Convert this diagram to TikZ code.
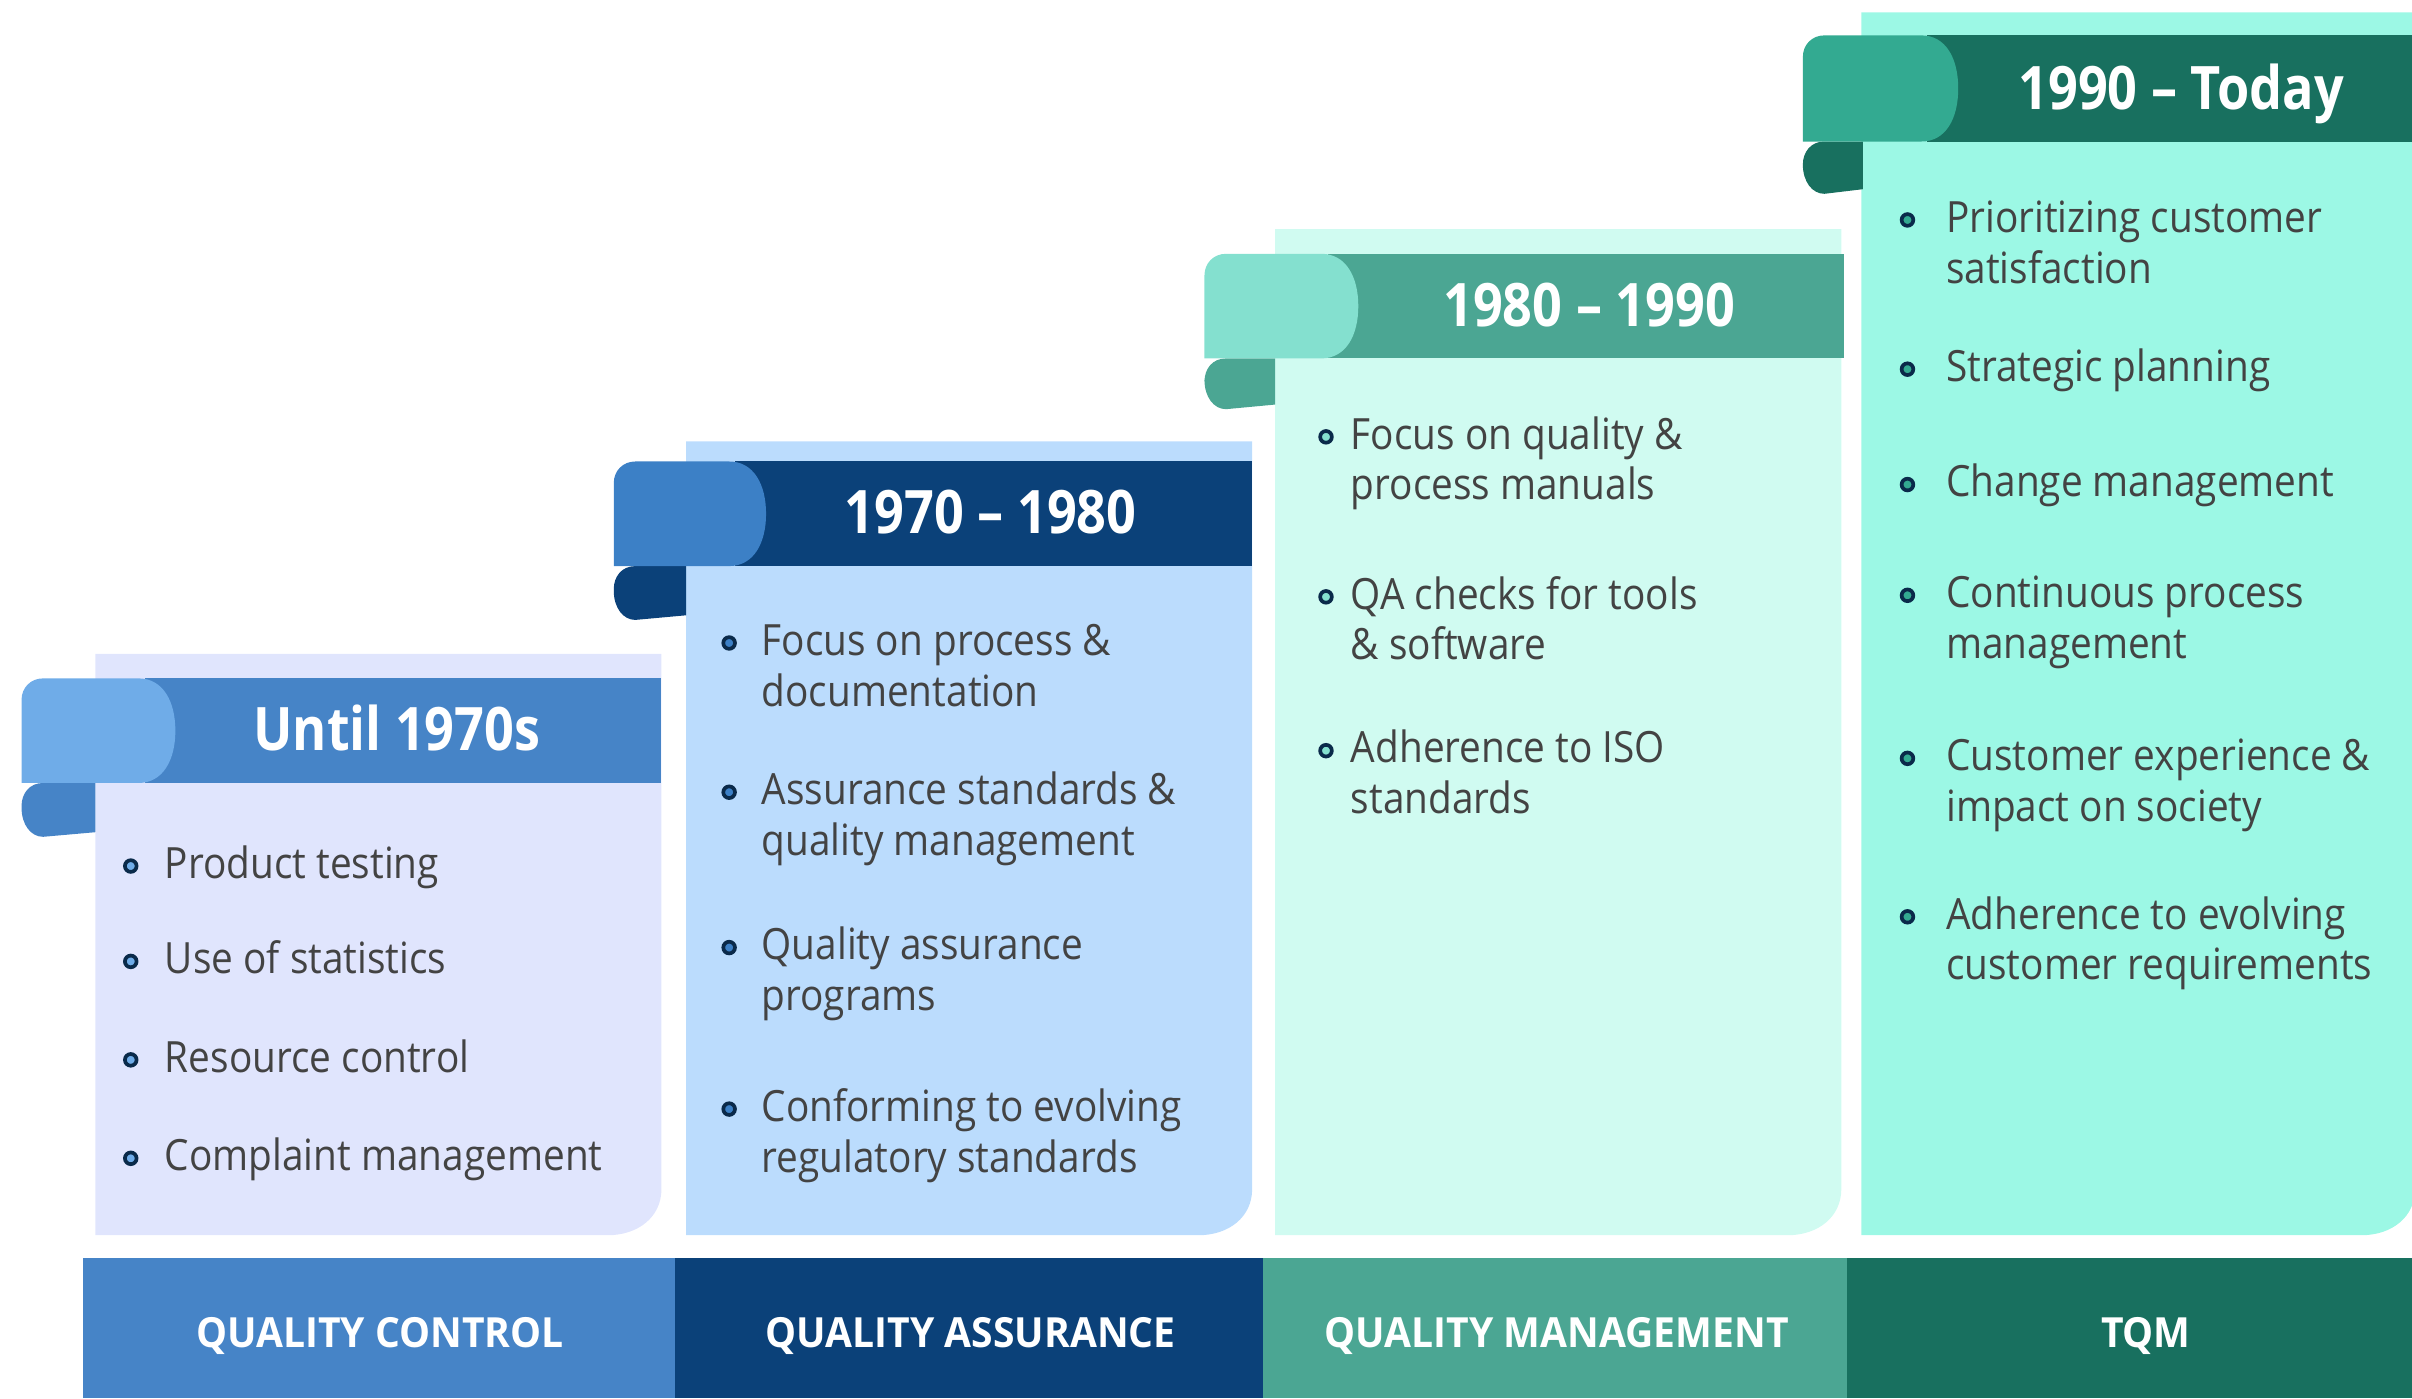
\documentclass[tikz,border=0pt]{standalone}
\usepackage{fontspec}
\setmainfont{Open Sans}[FakeStretch=0.9]
\newfontfamily\erafont{Open Sans}[FakeStretch=0.87]
\newfontfamily\barfont{Open Sans}[FakeStretch=0.94]

\definecolor{qcdark}{HTML}{4684C7}
\definecolor{qclight}{HTML}{6FACE8}
\definecolor{qcpanel}{HTML}{E0E5FD}
\definecolor{qadark}{HTML}{0B4179}
\definecolor{qalight}{HTML}{3C80C6}
\definecolor{qapanel}{HTML}{BBDCFD}
\definecolor{qmdark}{HTML}{4BA693}
\definecolor{qmlight}{HTML}{84E0CF}
\definecolor{qmpanel}{HTML}{D0FBF1}
\definecolor{tqmdark}{HTML}{18705F}
\definecolor{tqmlight}{HTML}{33AA91}
\definecolor{tqmpanel}{HTML}{9CF8E5}
\definecolor{navy}{HTML}{0A2A4A}
\definecolor{txt}{HTML}{434343}

\newcommand{\itemlines}[1]{\begin{tabular}[t]{@{}l@{}}#1\end{tabular}}

\tikzset{
 item/.style={anchor=base west, inner sep=0pt, text=txt, font=\fontsize{28}{33}\selectfont},
 dot/.style={draw=navy, line width=2.4pt},
 era/.style={anchor=base, inner sep=0pt, text=white, font=\erafont\bfseries\fontsize{39}{39}\selectfont},
 band/.style={anchor=base, inner sep=0pt, text=white, font=\barfont\bfseries\fontsize{27}{27}\selectfont},
}

% panel: left, right, top, bottom, colour
\newcommand{\card}[5]{
 \fill[#5] (#1,#3) -- (#2,#3) -- (#2,#4-30) .. controls (#2,#4-12) and (#2-15,#4) .. (#2-35,#4) -- (#1,#4) -- cycle;
}
% scroll: curl left, panel left, lobe right, top, bottom, curl bottom, end, dark, light
\newcommand{\scroll}[9]{
 \fill[#8] (#3-20,#4) rectangle (#7,#5);
 \fill[#8] (#1+14,#5) .. controls (#1+5,#5) and (#1,#5+7) .. (#1,#5+15) -- (#1,#6-19) .. controls (#1,#6-8) and (#1+6,#6) .. (#1+14,#6) -- (#2,#6-3) -- (#2,#5) -- cycle;
 \fill[#9] (#1,#5) -- (#1,#4+14) .. controls (#1,#4+6) and (#1+6,#4) .. (#1+14,#4) -- (#3-24,#4) .. controls (#3-8,#4) and (#3,#4+15) .. (#3,{(#4+#5)/2}) .. controls (#3,#5-15) and (#3-8,#5) .. (#3-24,#5) -- cycle;
}

\begin{document}
\begin{tikzpicture}[x=1pt, y=-1pt]
\useasboundingbox (0,0) rectangle (1568,909);

\card{62}{430}{425}{803}{qcpanel}
\card{446}{814}{287}{803}{qapanel}
\card{829}{1197}{149}{803}{qmpanel}
\card{1210}{1570}{8}{803}{tqmpanel}

\scroll{14}{62}{114}{441}{509}{544}{430}{qcdark}{qclight}
\scroll{399}{446}{498}{300}{368}{403}{814}{qadark}{qalight}
\scroll{783}{829}{883}{165}{233}{266}{1199}{qmdark}{qmlight}
\scroll{1172}{1211}{1273}{23}{92}{126}{1568}{tqmdark}{tqmlight}

\node[era] (era1) at (258,488) {Until 1970s};
\node[era] (era2) at (644,347) {1970 – 1980};
\node[era] (era3) at (1033,212) {1980 – 1990};
\node[era] (era4) at (1418,71) {1990 – Today};

\foreach \n/\y/\t in {1/571/Product testing, 2/633/Use of statistics, 3/697/Resource control, 4/761/Complaint management}
{
 \filldraw[dot, fill=qclight] (85,\y-8) circle[radius=3.8pt];
 \node[item] (qc\n) at (107,\y) {\itemlines{\t}};
}
\foreach \n/\y/\t in {1/426/{Focus on process \&\\documentation}, 2/523/{Assurance standards \&\\quality management}, 3/624/{Quality assurance\\programs}, 4/729/{Conforming to evolving\\regulatory standards}}
{
 \filldraw[dot, fill=qalight] (474,\y-8) circle[radius=3.8pt];
 \node[item] (qa\n) at (495,\y) {\itemlines{\t}};
}
\foreach \n/\y/\t in {1/292/{Focus on quality \&\\process manuals}, 2/396/{QA checks for tools\\\& software}, 3/496/{Adherence to ISO\\standards}}
{
 \filldraw[dot, fill=qmlight] (862,\y-8) circle[radius=3.8pt];
 \node[item] (qm\n) at (878,\y) {\itemlines{\t}};
}
\foreach \n/\y/\t in {1/151/{Prioritizing customer\\satisfaction}, 2/248/Strategic planning, 3/323/Change management, 4/395/{Continuous process\\management}, 5/501/{Customer experience \&\\impact on society}, 6/604/{Adherence to evolving\\customer requirements}}
{
 \filldraw[dot, fill=tqmlight] (1240,\y-8) circle[radius=3.8pt];
 \node[item] (tqm\n) at (1265,\y) {\itemlines{\t}};
}

\fill[qcdark] (54,818) rectangle (439,909);
\fill[qadark] (439,818) rectangle (821,909);
\fill[qmdark] (821,818) rectangle (1201,909);
\fill[tqmdark] (1201,818) rectangle (1568,909);
\node[band] (qc) at (247,876) {QUALITY CONTROL};
\node[band] (qa) at (631,876) {QUALITY ASSURANCE};
\node[band] (qm) at (1012,876) {QUALITY MANAGEMENT};
\node[band] (tqm) at (1395,876) {TQM};
\end{tikzpicture}
\end{document}
